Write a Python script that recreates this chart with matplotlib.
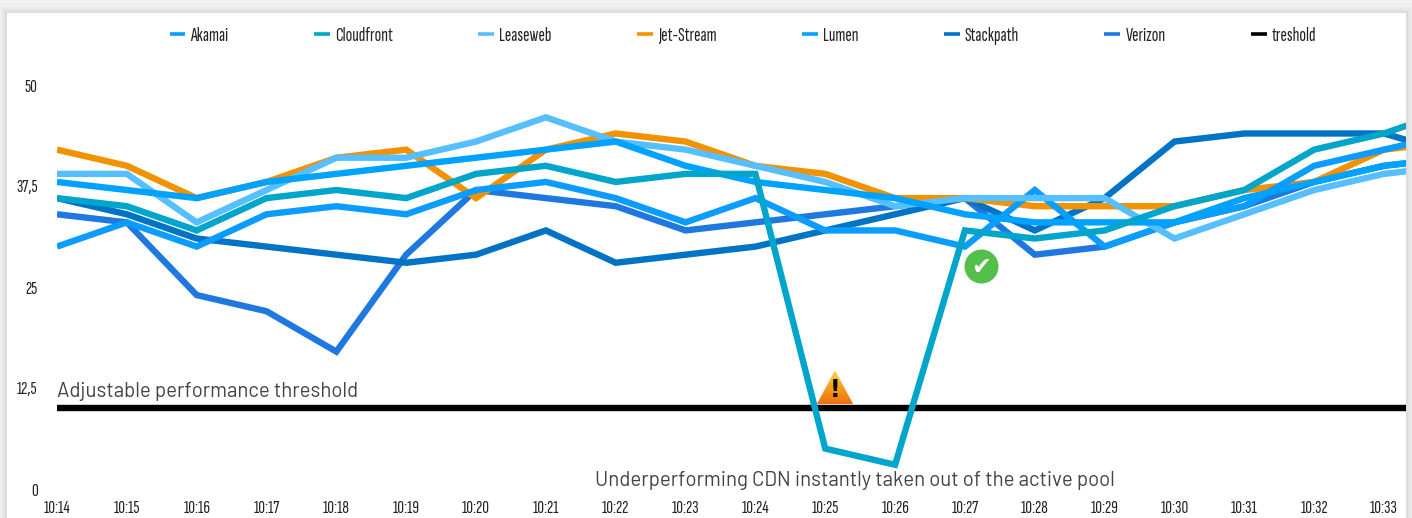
import numpy as np
import matplotlib
matplotlib.use("Agg")
import matplotlib.pyplot as plt
from matplotlib.colors import LinearSegmentedColormap
from matplotlib.patches import Polygon, Rectangle

# one extra point after 10:33, the lines run on to the card edge
times = ["10:14", "10:15", "10:16", "10:17", "10:18", "10:19", "10:20", "10:21", "10:22", "10:23",
         "10:24", "10:25", "10:26", "10:27", "10:28", "10:29", "10:30", "10:31", "10:32", "10:33"]
akamai = [30, 33, 30, 34, 35, 34, 37, 38, 36, 33, 36, 32, 32, 30, 37, 30, 33, 35, 40, 42, 44]
cloudfront = [36, 35, 32, 36, 37, 36, 39, 40, 38, 39, 39, 5, 3, 32, 31, 32, 35, 37, 42, 44, 47]
leaseweb = [39, 39, 33, 37, 41, 41, 43, 46, 43, 42, 40, 38, 35, 36, 36, 36, 31, 34, 37, 39, 40]
jet_stream = [42, 40, 36, 38, 41, 42, 36, 42, 44, 43, 40, 39, 36, 36, 35, 35, 35, 37, 38, 42, 43]
lumen = [38, 37, 36, 38, 39, 40, 41, 42, 43, 40, 38, 37, 36, 34, 33, 33, 33, 36, 38, 40, 41]
stackpath = [36, 34, 31, 30, 29, 28, 29, 32, 28, 29, 30, 32, 34, 36, 32, 36, 43, 44, 44, 44, 41.5]
verizon = [34, 33, 24, 22, 17, 29, 37, 36, 35, 32, 33, 34, 35, 36, 29, 30, 33, 35, 38, 40, 41]
threshold = [10] * 21

y_ticks = [0, 12.5, 25, 37.5, 50]
y_labels = ["0", "12,5", "25", "37,5", "50"]

W, H = 1412, 518
NARROW = ["Sofia Sans Extra Condensed", "Liberation Sans Narrow", "DejaVu Sans"]
LIGHT = ["Barlow", "Roboto", "DejaVu Sans"]


def main():
    fig = plt.figure(figsize=(W / 100, H / 100), dpi=100, facecolor="#f0f0f0")

    # card with soft shadow, in pixels
    for grow, col in [(6, "#ebebeb"), (4, "#e4e4e4"), (2, "#dcdcdc"), (0, "white")]:
        fig.add_artist(Rectangle((7 - grow, 0), 1399 + 2 * grow, H - 13 + grow,
                                 transform=None, fc=col, ec="none", zorder=-1))

    # plot area: 10:14 at x=57, 0 at y=489, 50 at y=85, clipped at the card edge
    ax = fig.add_axes([57 / W, (H - 489) / H, (1406 - 57) / W, 404 / H])
    ax.set_xlim(0, (1406 - 57) / 69.84)
    ax.set_ylim(0, 50)
    ax.patch.set_alpha(0)
    for s in ax.spines.values():
        s.set_visible(False)

    x = np.arange(21)
    lw = 4.6
    series = [
        ("Akamai", akamai, "#0a9dff", 5),
        ("Cloudfront", cloudfront, "#00a5cc", 8),
        ("Leaseweb", leaseweb, "#55bfff", 6),
        ("Jet-Stream", jet_stream, "#f39200", 4),
        ("Lumen", lumen, "#00a2ff", 7),
        ("Stackpath", stackpath, "#0073c4", 3),
        ("Verizon", verizon, "#1f78e0", 2),
        ("treshold", threshold, "black", 1),
    ]
    for name, vals, col, z in series:
        ax.plot(x, vals, color=col, lw=lw, label=name, zorder=z,
                solid_joinstyle="miter", solid_capstyle="butt")

    ax.set_xticks(x[:20], times)
    ax.set_yticks(y_ticks, y_labels)
    ax.tick_params(length=0, labelcolor="#222222", labelsize=13.5)
    ax.tick_params(axis="x", pad=8)
    ax.tick_params(axis="y", pad=14)
    for t in ax.get_xticklabels() + ax.get_yticklabels():
        t.set_family(NARROW)

    leg = fig.legend(loc="center", bbox_to_anchor=(743 / W, (H - 36) / H), ncol=8, frameon=False,
                     prop={"family": NARROW, "size": 14}, labelcolor="#222222",
                     handlelength=0.82, handletextpad=0.26, columnspacing=4.39, borderpad=0)
    for h in leg.get_lines():
        h.set_linewidth(2.6)

    ax.text(0, 11.4, "Adjustable performance threshold", family=LIGHT, weight="normal",
            fontsize=14.7, color="#444444", va="baseline", ha="left")
    ax.text(7.70, 0.4, "Underperforming CDN instantly taken out of the active pool", family=LIGHT,
            weight="normal", fontsize=14.7, color="#444444", va="baseline", ha="left")

    # warning sign
    tri = Polygon([(11.14, 14.7), (10.88, 10.5), (11.40, 10.5)], closed=True, fc="none", ec="none",
                  zorder=9, transform=ax.transData)
    ax.add_patch(tri)
    cmap = LinearSegmentedColormap.from_list("warn", ["#ffd84f", "#f5a11c", "#ee6f0f"])
    im = ax.imshow(np.linspace(0, 1, 64)[:, None], extent=(10.88, 11.4, 10.5, 14.7), cmap=cmap,
                   aspect="auto", zorder=9, origin="upper")
    im.set_clip_path(tri)
    ax.set_xlim(0, (1406 - 57) / 69.84)
    ax.set_ylim(0, 50)
    ax.text(11.14, 12.2, "!", color="black", fontsize=17, weight="bold", ha="center", va="center",
            family="DejaVu Sans", zorder=10)

    # recovered mark
    ax.scatter([13.23], [27.6], s=600, color="#55bf4b", zorder=9, linewidths=0)
    ax.text(13.23, 27.5, "\u2714", color="white", fontsize=17, ha="center", va="center",
            family="DejaVu Sans", zorder=10)

    fig.savefig("out.png", dpi=100, facecolor=fig.get_facecolor())


if __name__ == "__main__":
    main()
